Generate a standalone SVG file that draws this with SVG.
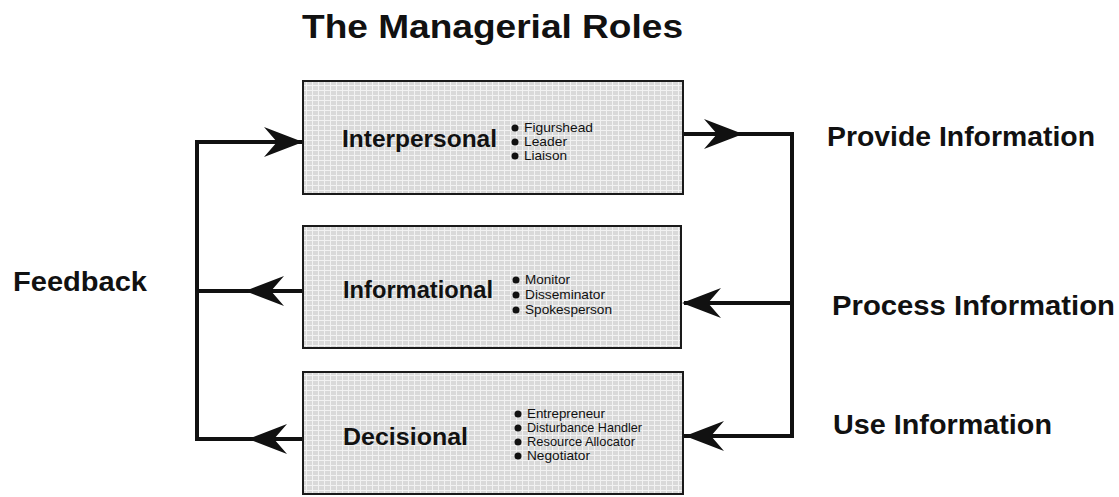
<svg xmlns="http://www.w3.org/2000/svg" width="1119" height="497" viewBox="0 0 1119 497">
<style>
.title{font-family:"Liberation Sans",Arial,sans-serif;font-weight:bold;fill:#111}
.side{font-family:"Liberation Sans",Arial,sans-serif;font-weight:bold;fill:#111}
.role{font-family:"Liberation Sans",Arial,sans-serif;font-weight:bold;font-size:24px;fill:#111}
.item{font-family:"Liberation Sans",Arial,sans-serif;font-size:13px;fill:#111}
.box{fill:url(#grid);stroke:#1a1a1a;stroke-width:2}
.wire{fill:none;stroke:#111;stroke-width:4;stroke-linecap:square}
.dot{fill:#111}
</style>
<defs>
<pattern id="grid" width="6" height="5" patternUnits="userSpaceOnUse">
<rect width="6" height="5" fill="#d9d9d9"/>
<path d="M0,0.5H6M0.5,0V5" stroke="#f2f2f2" stroke-width="1"/>
</pattern>
<path id="ah" d="M0,0 L-39,-15 L-26,0 L-39,15 Z" fill="#111"/>
</defs>
<rect width="1119" height="497" fill="#fff"/>
<text class="title" x="302" y="38" font-size="34" textLength="381" lengthAdjust="spacingAndGlyphs">The Managerial Roles</text>
<g id="node-interpersonal">
<rect class="box" x="303" y="81" width="380" height="113"/>
<text class="role" x="342" y="147" textLength="155" lengthAdjust="spacingAndGlyphs">Interpersonal</text>
<circle class="dot" cx="515" cy="128" r="3.5"/>
<circle class="dot" cx="515" cy="142" r="3.5"/>
<circle class="dot" cx="515" cy="156" r="3.5"/>
<text class="item" x="524" y="132" textLength="69" lengthAdjust="spacingAndGlyphs">Figurshead</text>
<text class="item" x="524" y="146" textLength="43" lengthAdjust="spacingAndGlyphs">Leader</text>
<text class="item" x="524" y="160" textLength="43" lengthAdjust="spacingAndGlyphs">Liaison</text>
</g>
<g id="node-informational">
<rect class="box" x="303" y="226" width="378" height="122"/>
<text class="role" x="343" y="298" textLength="150" lengthAdjust="spacingAndGlyphs">Informational</text>
<circle class="dot" cx="516" cy="280" r="3.5"/>
<circle class="dot" cx="516" cy="295" r="3.5"/>
<circle class="dot" cx="516" cy="310" r="3.5"/>
<text class="item" x="525" y="284" textLength="45" lengthAdjust="spacingAndGlyphs">Monitor</text>
<text class="item" x="525" y="299" textLength="80" lengthAdjust="spacingAndGlyphs">Disseminator</text>
<text class="item" x="525" y="314" textLength="87" lengthAdjust="spacingAndGlyphs">Spokesperson</text>
</g>
<g id="node-decisional">
<rect class="box" x="303" y="372" width="380" height="122"/>
<text class="role" x="343" y="445" textLength="125" lengthAdjust="spacingAndGlyphs">Decisional</text>
<circle class="dot" cx="518" cy="414" r="3.5"/>
<circle class="dot" cx="518" cy="428" r="3.5"/>
<circle class="dot" cx="518" cy="442" r="3.5"/>
<circle class="dot" cx="518" cy="456" r="3.5"/>
<text class="item" x="527" y="418" textLength="78" lengthAdjust="spacingAndGlyphs">Entrepreneur</text>
<text class="item" x="527" y="432" textLength="115" lengthAdjust="spacingAndGlyphs">Disturbance Handler</text>
<text class="item" x="527" y="446" textLength="108" lengthAdjust="spacingAndGlyphs">Resource Allocator</text>
<text class="item" x="527" y="460" textLength="63" lengthAdjust="spacingAndGlyphs">Negotiator</text>
</g>
<g id="label-feedback"><text class="side" x="13" y="291" font-size="27" textLength="134" lengthAdjust="spacingAndGlyphs">Feedback</text></g>
<g id="label-provide"><text class="side" x="827" y="146" font-size="27" textLength="268" lengthAdjust="spacingAndGlyphs">Provide Information</text></g>
<g id="label-process"><text class="side" x="832" y="315" font-size="28" textLength="283" lengthAdjust="spacingAndGlyphs">Process Information</text></g>
<g id="label-use"><text class="side" x="833" y="434" font-size="27" textLength="219" lengthAdjust="spacingAndGlyphs">Use Information</text></g>
<g id="connectors">
<path class="wire" d="M300,142 H197 V439 H300"/>
<path class="wire" d="M197,291 H300"/>
<path class="wire" d="M686,134 H792 V436 H686"/>
<path class="wire" d="M686,303 H792"/>
<use href="#ah" transform="translate(303,142)"/>
<use href="#ah" transform="translate(245,291) rotate(180)"/>
<use href="#ah" transform="translate(248,439) rotate(180)"/>
<use href="#ah" transform="translate(743,134)"/>
<use href="#ah" transform="translate(682,303) rotate(180)"/>
<use href="#ah" transform="translate(685,436) rotate(180)"/>
</g>
</svg>
